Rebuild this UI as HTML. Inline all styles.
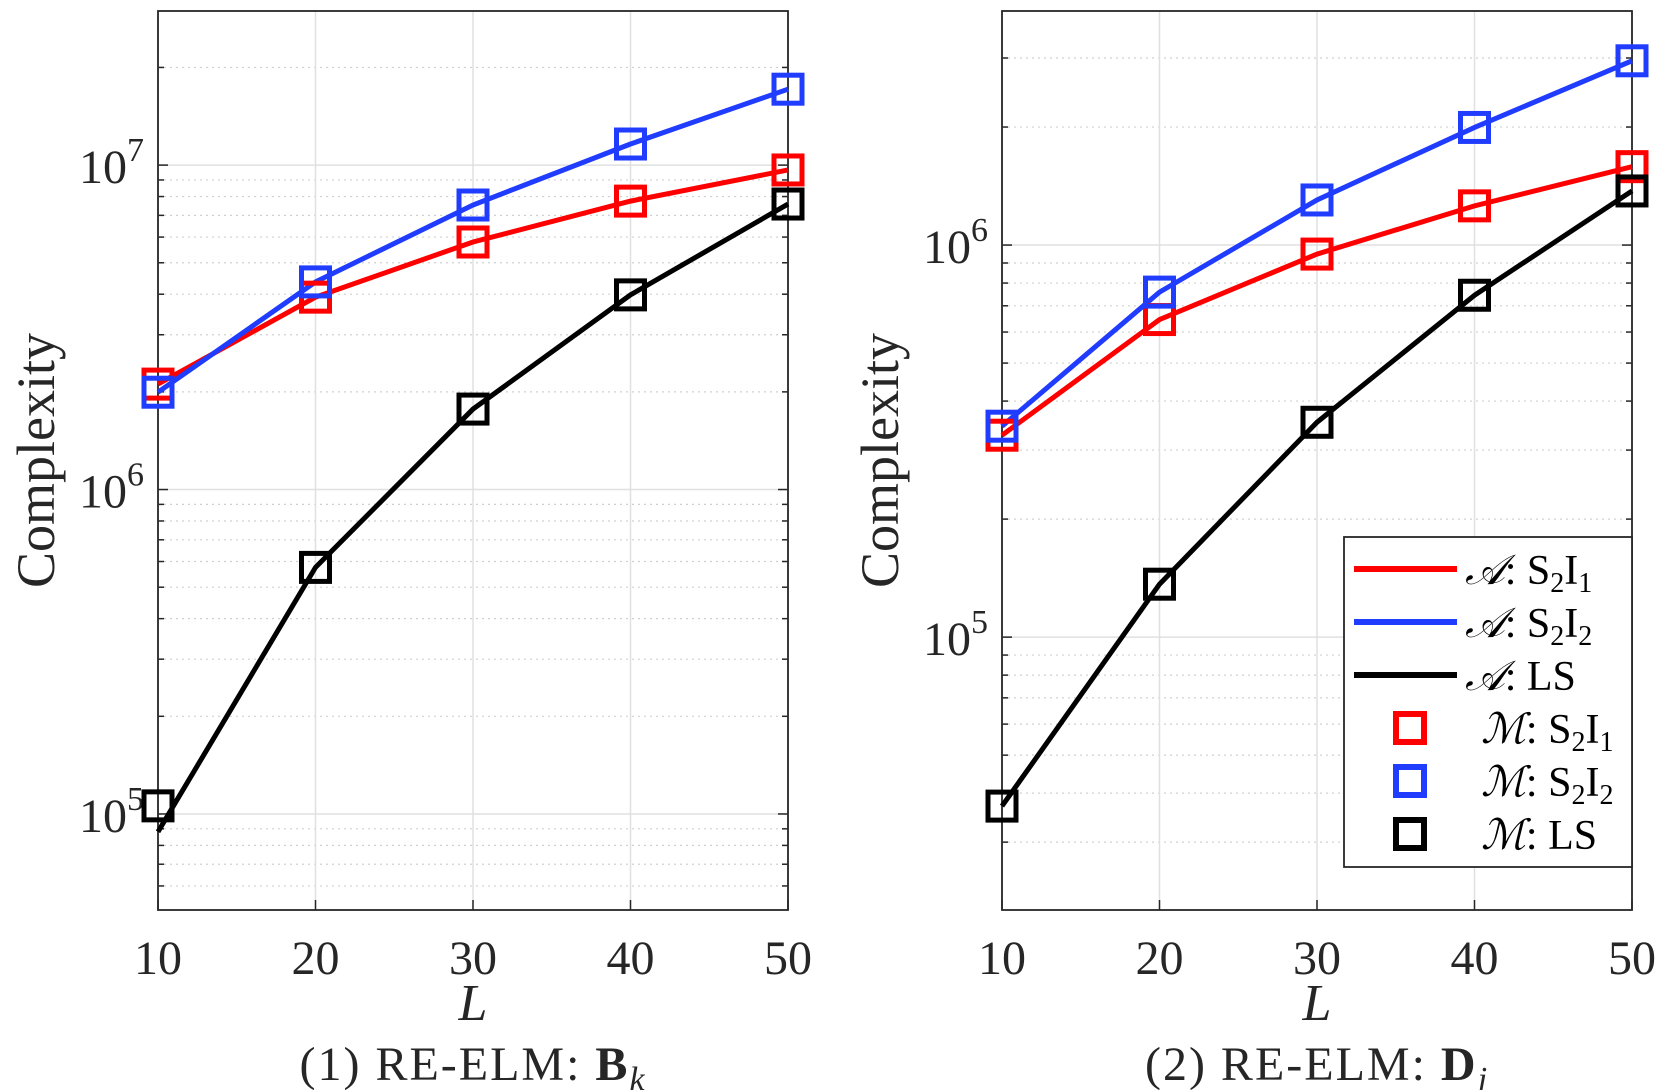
<!DOCTYPE html><html><head><meta charset="utf-8"><style>body{margin:0;background:#fff}svg{display:block}</style></head><body>
<svg id="s" width="1662" height="1090" xmlns="http://www.w3.org/2000/svg" font-family="'Liberation Serif', 'DejaVu Serif', serif" fill="#262626"></svg>
<script>
const s=document.getElementById('s');let h='';
function panel(X0,X1,Y0,Y1,lt,lb,dec,data,title,sub){
 const xs=v=>X0+(v-10)/40*(X1-X0), ys=l=>Y0+(lt-l)/(lt-lb)*(Y1-Y0);
 for(let d=Math.floor(lb);d<=Math.ceil(lt);d++){for(let m=1;m<10;m++){const l=d+Math.log10(m);if(l<lb||l>lt)continue;const y=ys(l);
  if(m==1)h+=`<line x1="${X0}" x2="${X1}" y1="${y}" y2="${y}" stroke="#e0e0e0" stroke-width="1.5"/>`;
  else h+=`<line x1="${X0}" x2="${X1}" y1="${y}" y2="${y}" stroke="#d0d0d0" stroke-width="1.2" stroke-dasharray="2,4"/>`;
  const t=m==1?10:6;h+=`<line x1="${X0}" x2="${X0+t}" y1="${y}" y2="${y}" stroke="#262626" stroke-width="1.5"/><line x1="${X1}" x2="${X1-t}" y1="${y}" y2="${y}" stroke="#262626" stroke-width="1.5"/>`;
  if(m==1)h+=`<text x="${X0-14}" y="${y+18}" font-size="48" text-anchor="end">10<tspan font-size="34" dy="-22">${d}</tspan></text>`;}}
 for(let v=10;v<=50;v+=10){const x=xs(v);h+=`<line x1="${x}" x2="${x}" y1="${Y0}" y2="${Y1}" stroke="#e0e0e0" stroke-width="1.5"/><line x1="${x}" x2="${x}" y1="${Y1}" y2="${Y1-10}" stroke="#262626" stroke-width="1.5"/><text x="${x}" y="${Y1+64}" font-size="48" text-anchor="middle">${v}</text>`;}
 h+=`<rect x="${X0}" y="${Y0}" width="${X1-X0}" height="${Y1-Y0}" fill="none" stroke="#262626" stroke-width="1.8"/>`;
 for(const [c,pts,l0] of data){let p=pts.map((l,i)=>`${xs(10+10*i)},${ys(i==0&&l0!=null?l0:l)}`).join(' ');
  h+=`<polyline points="${p}" fill="none" stroke="${c}" stroke-width="5"/>`;}
 for(const [c,pts] of data)pts.forEach((l,i)=>{h+=`<rect x="${xs(10+10*i)-14}" y="${ys(l)-14}" width="28" height="28" fill="none" stroke="${c}" stroke-width="5"/>`;});
 const cx=(X0+X1)/2;
 h+=`<text transform="translate(${X0-104},${(Y0+Y1)/2}) rotate(-90)" font-size="54" text-anchor="middle">Complexity</text>`;
 h+=`<text x="${cx}" y="1020" font-size="52" font-style="italic" text-anchor="middle">L</text>`;
 h+=`<text x="${cx}" y="1080" font-size="48" letter-spacing="2" text-anchor="middle">${title} <tspan font-weight="bold">${sub}</tspan><tspan font-style="italic" font-size="34" dy="10">${sub=='B'?'k':'j'}</tspan></text>`;
}
const R='#ff0000',B='#1f3cff',K='#000';
panel(158,788,11,910,7.475,4.704,0,[[R,[6.325,6.593,6.763,6.889,6.985]],[B,[6.30,6.64,6.877,7.065,7.234]],[K,[5.025,5.76,6.248,6.6,6.88],4.945]],'(1) RE-ELM:','B');
panel(1002,1632,11,910,6.597,4.304,0,[[R,[5.515,5.81,5.977,6.1,6.2]],[B,[5.538,5.88,6.115,6.30,6.47]],[K,[4.569,5.135,5.548,5.872,6.138]]],'(2) RE-ELM:','D');
h+=`<rect x="1344" y="537" width="288" height="330" fill="#fff" stroke="#262626" stroke-width="1.8"/>`;
const L=[[R,'A','S','1'],[B,'A','S','2'],[K,'A','LS'],[R,'M','S','1'],[B,'M','S','2'],[K,'M','LS']];
L.forEach((e,i)=>{const y=569+i*53;
 if(i<3)h+=`<line x1="1354" x2="1457" y1="${y}" y2="${y}" stroke="${e[0]}" stroke-width="6"/>`;
 else h+=`<rect x="1396" y="${y-14}" width="28" height="28" fill="none" stroke="${e[0]}" stroke-width="6"/>`;
 let t=`<tspan font-style="italic">${e[1]=='A'?'𝒜':'ℳ'}</tspan>:  `;
 t+=e[2]=='LS'?'LS':`S<tspan font-size="28" dy="8">2</tspan><tspan dy="-8">I</tspan><tspan font-size="28" dy="8">${e[3]}</tspan>`;
 h+=`<text x="${1465+(i>=3?16:0)}" y="${y+15}" font-size="42" fill="#000">${t}</text>`;});
s.innerHTML=h;
</script></body></html>
